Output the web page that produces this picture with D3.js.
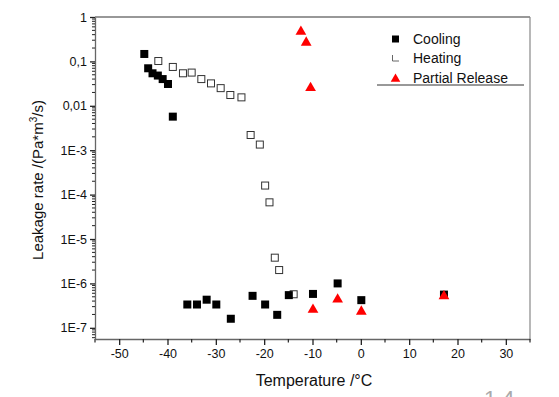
<!DOCTYPE html>
<html>
<head>
<meta charset="utf-8">
<script src="https://cdn.jsdelivr.net/npm/d3@7"></script>
<style>
  body { margin: 0; background: #fff; }
  svg { font-family: "Liberation Sans", Arial, sans-serif; }
</style>
</head>
<body>
<div class="container"></div>
<script>
// values
const coolingT = [-44.8, -44, -43.1, -42, -41, -39.9, -38.9, -35.9, -33.9, -31.9, -29.9, -26.9, -22.4, -19.8, -17.3, -14.9, -9.9, -4.8, 0.1, 17.2];
const coolingL = [0.147, 0.07, 0.054, 0.048, 0.04, 0.031, 0.0057, 3.35e-7, 3.35e-7, 4.3e-7, 3.35e-7, 1.6e-7, 5.25e-7, 3.35e-7, 1.96e-7, 5.45e-7, 5.8e-7, 1.0e-6, 4.2e-7, 5.6e-7];

const heatingT = [-41.9, -38.9, -36.8, -35, -33, -31, -29, -27, -24.7, -22.8, -20.9, -19.8, -18.9, -17.8, -16.9, -13.9];
const heatingL = [0.102, 0.075, 0.054, 0.056, 0.040, 0.032, 0.025, 0.0175, 0.0155, 0.0022, 0.00134, 1.6e-4, 6.7e-5, 3.8e-6, 2.0e-6, 5.7e-7];

const releaseT = [-12.4, -11.3, -10.4, -9.9, -4.8, 0.1, 17.2];
const releaseL = [0.49, 0.28, 0.0265, 2.7e-7, 4.6e-7, 2.45e-7, 5.45e-7];

const xTicks = [-50, -40, -30, -20, -10, 0, 10, 20, 30];
const yTicks = [1, 0.1, 0.01, 1e-3, 1e-4, 1e-5, 1e-6, 1e-7];
const yTickLabels = ['1', '0,1', '0,01', '1E-3', '1E-4', '1E-5', '1E-6', '1E-7'];
const legendNames = ['Cooling', 'Heating', 'Partial Release'];

const width = 559, height = 397;
const pLeft = 95, pRight = 530, pTop = 17, pBottom = 339;

const svg = d3.select('.container')
    .append('svg')
    .attr('width', width)
    .attr('height', height);

const x = d3.scaleLinear().domain([-55, 35]).range([pLeft, pRight]);
const y = d3.scaleLog().domain([5.6e-8, 1]).range([pBottom, pTop]);

// frame: top and right
svg.append('line')
    .attr('x1', pLeft).attr('x2', pRight).attr('y1', pTop).attr('y2', pTop)
    .attr('stroke', '#333').attr('stroke-width', 1.2);
svg.append('line')
    .attr('x1', pRight).attr('x2', pRight).attr('y1', pTop).attr('y2', pBottom)
    .attr('stroke', '#888').attr('stroke-width', 1.2);

// x axis
const xMinor = d3.range(-55, 36, 5).filter(v => v % 10 !== 0);
const xAxis = svg.append('g').attr('transform', `translate(0,${pBottom})`);
xAxis.call(d3.axisBottom(x).tickValues(xTicks).tickSize(6).tickSizeOuter(0).tickPadding(4).tickFormat(d => String(d)));
xAxis.selectAll('.tick line').attr('stroke', '#222').attr('stroke-width', 1.3);
xAxis.select('.domain').attr('stroke', '#666').attr('stroke-width', 1.3);
xAxis.selectAll('text').attr('font-size', 12.5).attr('fill', '#111').attr('font-family', '"Liberation Sans", Arial, sans-serif');
xAxis.selectAll('.minor')
    .data(xMinor)
    .join('line')
    .attr('x1', d => x(d)).attr('x2', d => x(d))
    .attr('y1', 0).attr('y2', 3.5)
    .attr('stroke', '#222').attr('stroke-width', 1.2);

// y axis
const yMinor = [];
for (let e = -8; e < 0; e++) {
  for (let m = 2; m <= 9; m++) {
    const v = m * Math.pow(10, e);
    if (v > 5.6e-8 && v < 1) yMinor.push(v);
  }
}
const yAxis = svg.append('g').attr('transform', `translate(${pLeft},0)`);
yAxis.call(d3.axisLeft(y).tickValues(yTicks).tickSize(5).tickSizeOuter(0).tickPadding(3)
    .tickFormat((d, i) => yTickLabels[i]));
yAxis.selectAll('.tick line').attr('stroke', '#222').attr('stroke-width', 1.3);
yAxis.select('.domain').attr('stroke', '#666').attr('stroke-width', 1.3);
yAxis.selectAll('text').attr('font-size', 12.5).attr('fill', '#111').attr('font-family', '"Liberation Sans", Arial, sans-serif');
yAxis.selectAll('.minor')
    .data(yMinor)
    .join('line')
    .attr('x1', -3).attr('x2', 0)
    .attr('y1', d => y(d)).attr('y2', d => y(d))
    .attr('stroke', '#222').attr('stroke-width', 1);

// axis titles
svg.append('text')
    .attr('x', 314).attr('y', 386)
    .attr('text-anchor', 'middle')
    .attr('font-size', 16).attr('fill', '#111')
    .text('Temperature /°C');

const yt = svg.append('text')
    .attr('transform', 'translate(43,180) rotate(-90)')
    .attr('text-anchor', 'middle')
    .attr('font-size', 15).attr('fill', '#111');
yt.append('tspan').text('Leakage rate /(Pa*m');
yt.append('tspan').attr('font-size', 10).attr('dy', -6).text('3');
yt.append('tspan').attr('dy', 6).text('/s)');

// markers
const sq = 8;
const cooling = coolingT.map((t, i) => ({t, l: coolingL[i]}));
const heating = heatingT.map((t, i) => ({t, l: heatingL[i]}));
const release = releaseT.map((t, i) => ({t, l: releaseL[i]}));

svg.append('g')
    .selectAll('rect')
    .data(heating)
    .join('rect')
    .attr('x', d => x(d.t) - sq / 2 + 0.5)
    .attr('y', d => y(d.l) - sq / 2 + 0.5)
    .attr('width', sq - 1).attr('height', sq - 1)
    .attr('fill', '#fff')
    .attr('stroke', '#333').attr('stroke-width', 1);

svg.append('g')
    .selectAll('rect')
    .data(cooling)
    .join('rect')
    .attr('x', d => x(d.t) - sq / 2)
    .attr('y', d => y(d.l) - sq / 2)
    .attr('width', sq).attr('height', sq)
    .attr('fill', '#000');

const tri = d3.symbol().type(d3.symbolTriangle).size(50);
svg.append('g')
    .selectAll('path')
    .data(release)
    .join('path')
    .attr('transform', d => `translate(${x(d.t)},${y(d.l) + 1})`)
    .attr('d', tri)
    .attr('fill', '#f00');

// legend
const legendY = [39, 58, 78];
const lg = svg.append('g');
lg.append('rect').attr('x', 392).attr('y', legendY[0] - 3.5).attr('width', 7).attr('height', 7).attr('fill', '#000');
lg.append('path').attr('d', `M392.5,${legendY[1] - 3}V${legendY[1] + 3}H399`).attr('fill', 'none').attr('stroke', '#666').attr('stroke-width', 1);
lg.append('path').attr('transform', `translate(395.5,${legendY[2] + 1})`).attr('d', d3.symbol().type(d3.symbolTriangle).size(40)).attr('fill', '#f00');
lg.selectAll('text')
    .data(legendNames)
    .join('text')
    .attr('x', 413)
    .attr('y', (d, i) => legendY[i] + 5)
    .attr('font-size', 14).attr('fill', '#111')
    .text(d => d);
lg.append('line')
    .attr('x1', 377).attr('x2', 524).attr('y1', 85).attr('y2', 85)
    .attr('stroke', '#333').attr('stroke-width', 1);

// page number, partly cut off at the bottom edge as in the source
svg.append('text')
    .attr('x', 484).attr('y', 406)
    .attr('font-size', 22).attr('fill', '#aaa')
    .text('1.4');
</script>
</body>
</html>
